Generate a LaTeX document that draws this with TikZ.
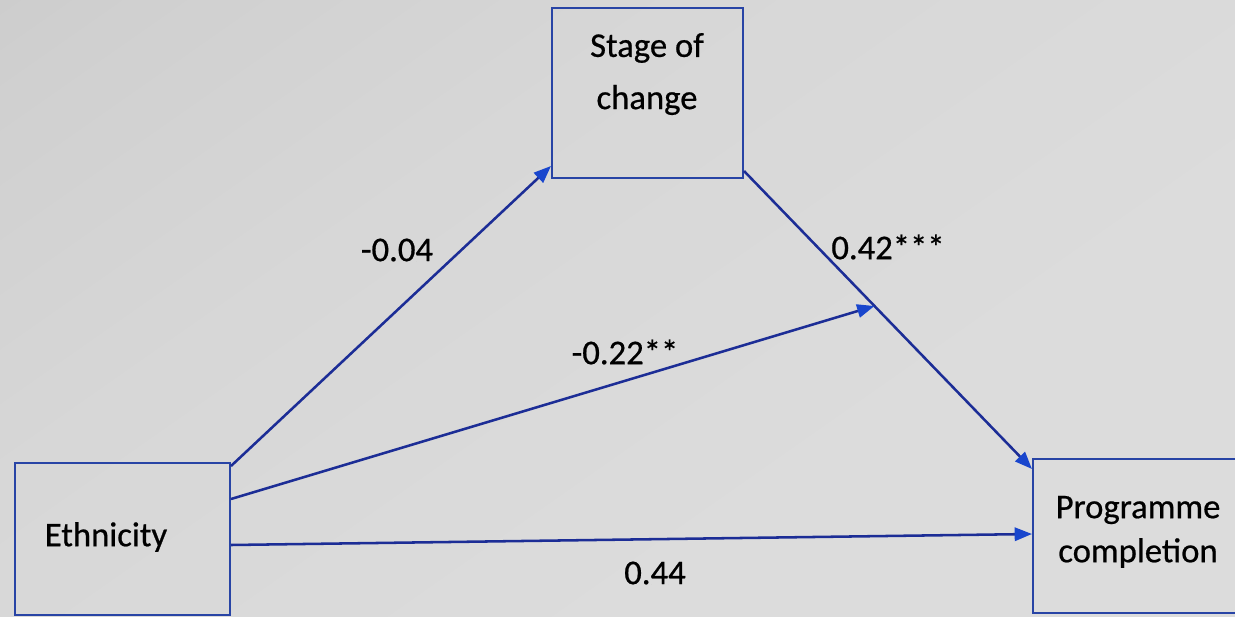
\documentclass[tikz,border=0pt]{standalone}
\usepackage{fontspec}
\setmainfont{Carlito}[FakeBold=0.6]
\usetikzlibrary{arrows.meta,calc}
\definecolor{linec}{RGB}{28,45,150}
\definecolor{tipc}{RGB}{25,70,205}
\definecolor{boxc}{RGB}{40,68,165}
\definecolor{bgA}{RGB}{196,196,196}
\definecolor{bgM}{RGB}{208,208,208}
\definecolor{bgC}{RGB}{215,215,215}
\definecolor{bgB}{RGB}{220,220,220}
\pgfdeclareverticalshading{bgsh}{100bp}{color(0bp)=(bgB); color(35bp)=(bgB); color(62bp)=(bgC); color(80bp)=(bgM); color(100bp)=(bgA)}
\begin{document}
\begin{tikzpicture}[x=0.75pt,y=-0.75pt,
  boxnode/.style={draw=boxc,line width=1.5pt,rectangle,inner sep=0pt},
  txt/.style={font=\fontsize{26}{31}\selectfont,text=black,inner sep=0pt,align=center},
  conn/.style={draw=linec,line width=1.9pt,-{Triangle[length=13pt,width=10pt,fill=tipc,color=tipc]}}]
\useasboundingbox (0,0) rectangle (1235,617);
\clip (0,0) rectangle (1235,617);
\shade[shading=bgsh,shading angle=35] (0,0) rectangle (1235,617);
% boxes
\node[boxnode,minimum width=161.25pt,minimum height=114pt] (eth) at (122.5,539) {};
\node[boxnode,minimum width=143.25pt,minimum height=127.5pt] (stage) at (647.5,93) {};
\node[boxnode,minimum width=155.25pt,minimum height=115.5pt] (prog) at (1136.5,536) {};
% texts
\node[txt] (ethT) at (106,537) {Ethnicity};
\node[txt] (stageT1) at (647,48) {Stage of};
\node[txt] (stageT2) at (647,100) {change};
\node[txt] (progT1) at (1138,510) {Programme};
\node[txt] (progT2) at (1138,553) {completion};
% connector points
\coordinate (sOut) at ([yshift=6pt]stage.south east);
\coordinate (pIn) at ([yshift=-8.25pt]prog.north west);
\coordinate (mid) at ($(sOut)!0.453!(pIn)$);
% connectors
\draw[conn] ([yshift=-3pt]eth.north east) -- ([yshift=9.75pt]stage.south west);
\draw[conn] (sOut) -- (pIn);
\draw[conn] ([yshift=-27.75pt]eth.north east) -- (mid);
\draw[conn] ([yshift=-62.25pt]eth.north east) -- ([yshift=-57pt]prog.north west);
% labels
\node[txt] (l1) at (397,250) {-0.04};
\node[txt] (l2) at (888,247) {0.42***};
\node[txt] (l3) at (625,352) {-0.22**};
\node[txt] (l4) at (655,573) {0.44};
\end{tikzpicture}
\end{document}
